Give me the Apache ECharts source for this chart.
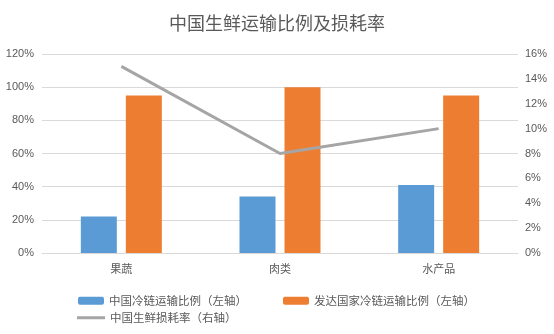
<!DOCTYPE html>
<html><head><meta charset="utf-8">
<script src="https://cdn.jsdelivr.net/npm/echarts@6/dist/echarts.min.js"></script>
<style>html,body{margin:0;padding:0;background:#fff}#c{width:554px;height:334px}</style>
</head><body><div id="c"></div>
<script>
const categories = ['果蔬', '肉类', '水产品'];
const chinaColdChain = [22, 34, 41];
const developedColdChain = [95, 100, 95];
const chinaLossRate = [15, 8, 10];
const leftTicks = {min: 0, max: 120, interval: 20};
const rightTicks = {min: 0, max: 16, interval: 2};
const names = ['中国冷链运输比例（左轴）', '发达国家冷链运输比例（左轴）', '中国生鲜损耗率（右轴）'];

const font = '"Noto Sans CJK SC", "Noto Sans", sans-serif';
const txt = '#595959';
const chart = echarts.init(document.getElementById('c'));
chart.setOption({
  animation: false,
  textStyle: {fontFamily: font},
  title: {text: '中国生鲜运输比例及损耗率', left: 'center', top: 9,
    textStyle: {fontSize: 18, fontWeight: 'normal', color: txt, fontFamily: font}},
  legend: [
    {data: [names[0]], left: 73, top: 290, itemWidth: 26, itemHeight: 8, itemGap: 0,
      textStyle: {fontSize: 11.5, color: txt}},
    {data: [names[1]], left: 278, top: 290, itemWidth: 26, itemHeight: 8,
      textStyle: {fontSize: 11.5, color: txt}},
    {data: [{name: names[2], icon: 'rect'}], left: 72, top: 307, itemWidth: 28, itemHeight: 3,
      textStyle: {fontSize: 11.5, color: txt}}
  ],
  grid: {left: 42, right: 36, top: 54, bottom: 81},
  xAxis: {type: 'category', data: categories,
    axisLine: {lineStyle: {color: '#d9d9d9'}}, axisTick: {show: false},
    axisLabel: {color: txt, fontSize: 11, margin: 10}},
  yAxis: [
    {type: 'value', min: leftTicks.min, max: leftTicks.max, interval: leftTicks.interval,
      axisLabel: {formatter: '{value}%', color: txt, fontSize: 11, fontFamily: 'Liberation Sans, Arial, sans-serif'},
      splitLine: {lineStyle: {color: '#d9d9d9'}}, axisLine: {show: false}, axisTick: {show: false}},
    {type: 'value', min: rightTicks.min, max: rightTicks.max, interval: rightTicks.interval,
      axisLabel: {formatter: '{value}%', color: txt, fontSize: 11, margin: 7, fontFamily: 'Liberation Sans, Arial, sans-serif'},
      splitLine: {show: false}, axisLine: {show: false}, axisTick: {show: false}}
  ],
  series: [
    {name: names[0], type: 'bar', data: chinaColdChain, barWidth: 36, barGap: '25%',
      itemStyle: {color: '#5b9bd5'}},
    {name: names[1], type: 'bar', data: developedColdChain, barWidth: 36, barGap: '25%',
      itemStyle: {color: '#ed7d31'}},
    {name: names[2], type: 'line', yAxisIndex: 1, data: chinaLossRate, showSymbol: false, symbol: 'none',
      lineStyle: {color: '#a5a5a5', width: 3}, itemStyle: {color: '#a5a5a5'}}
  ]
});
</script></body></html>
